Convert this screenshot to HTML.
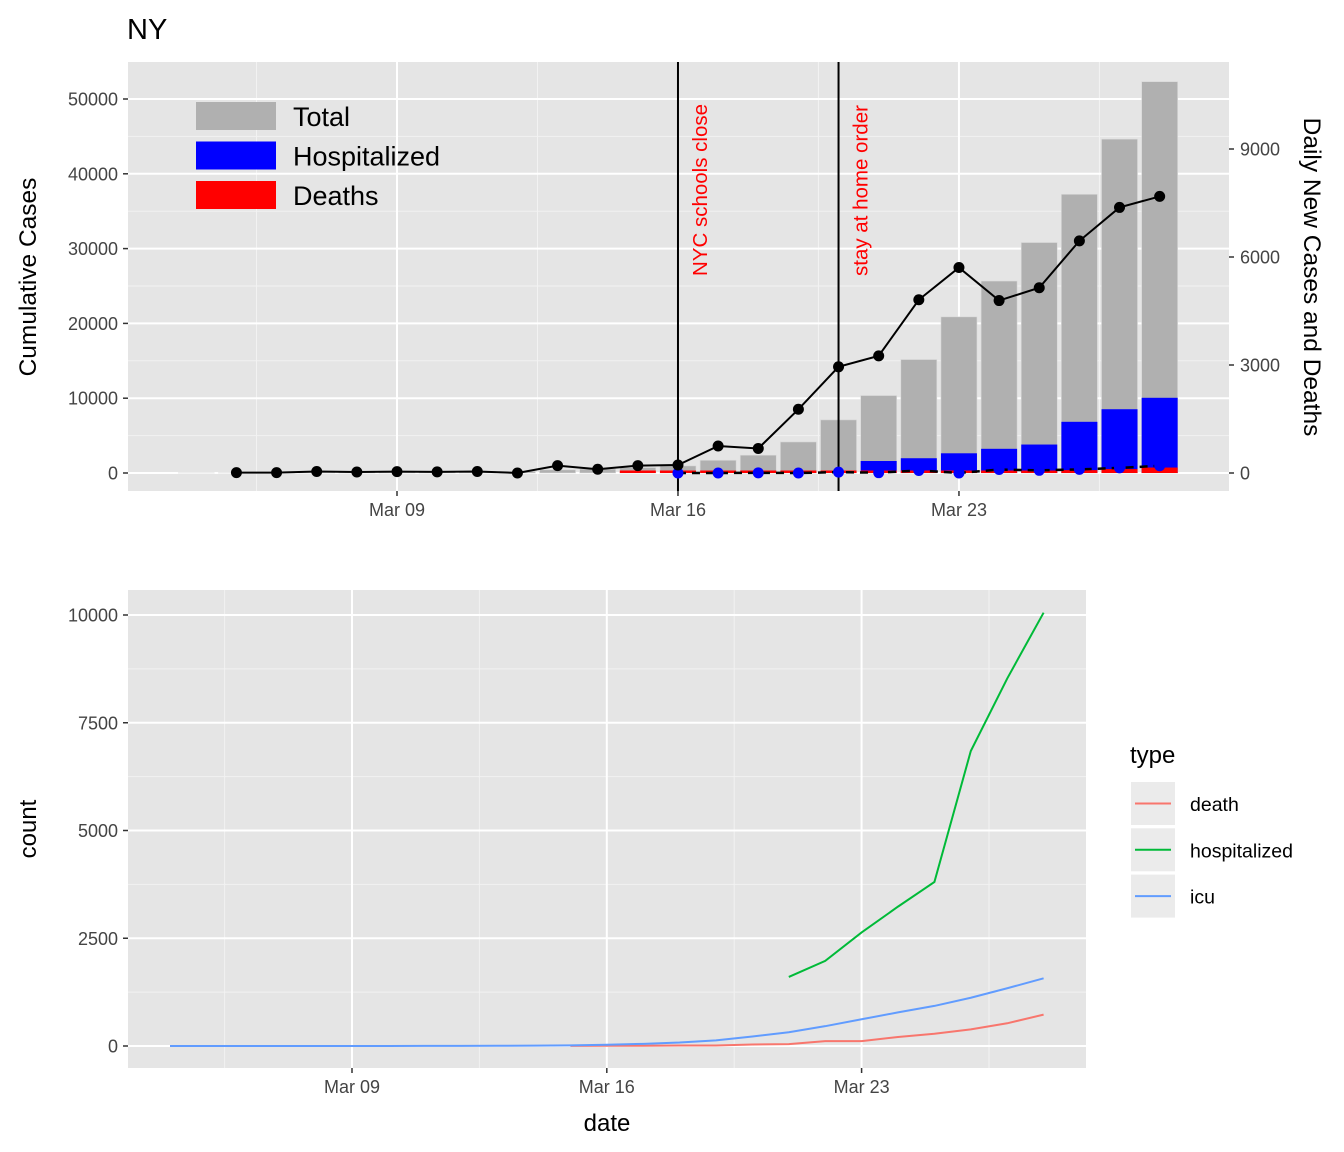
<!DOCTYPE html>
<html><head><meta charset="utf-8"><style>
body{margin:0;background:#fff;}
svg{display:block;font-family:"Liberation Sans",Arial,sans-serif;}
</style></head><body>
<svg id="c" width="1344" height="1152" viewBox="0 0 1344 1152" xmlns="http://www.w3.org/2000/svg"></svg>
<script>
// ---- data ----
const days = ["Mar 04","Mar 05","Mar 06","Mar 07","Mar 08","Mar 09","Mar 10","Mar 11","Mar 12","Mar 13","Mar 14","Mar 15","Mar 16","Mar 17","Mar 18","Mar 19","Mar 20","Mar 21","Mar 22","Mar 23","Mar 24","Mar 25","Mar 26","Mar 27","Mar 28"];
const totalCum = [11,22,33,76,105,142,173,216,216,421,524,729,950,1700,2382,4152,7102,10356,15168,20875,25665,30811,37258,44635,52318];
const hospCum = [null,null,null,null,null,null,null,null,null,null,null,null,null,null,null,null,null,1603,1974,2635,3234,3805,6844,8526,10054];
const deathCum = [null,null,null,null,null,null,null,null,null,null,null,3,7,7,12,12,35,44,114,114,210,285,385,527,728];
const dailyNew = [null,11,11,43,29,37,31,43,0,205,103,205,221,750,682,1770,2950,3254,4812,5707,4790,5146,6447,7377,7683];
const dailyDeaths = [null,null,null,null,null,null,null,null,null,null,null,null,0,0,5,0,23,9,70,0,96,75,100,142,201];
const icu = [0,0,0,0,0,1,1,2,3,5,8,15,30,50,80,130,220,320,460,620,780,930,1120,1340,1570];
const leftTicks = [0,10000,20000,30000,40000,50000];
const rightTicks = [0,3000,6000,9000];
const botTicks = [0,2500,5000,7500,10000];
const dateTicks = [5,12,19]; // indices of Mar 09, Mar 16, Mar 23
const dateLabels = ["Mar 09","Mar 16","Mar 23"];
const events = [12,16];
const eventLabels = ["NYC schools close","stay at home order"];

const NS="http://www.w3.org/2000/svg";
const svg=document.getElementById('c');
function el(tag,attrs,parent,text){const e=document.createElementNS(NS,tag);for(const k in attrs)e.setAttribute(k,attrs[k]);if(text!==undefined)e.textContent=text;(parent||svg).appendChild(e);return e;}
const TICK=18, TICKC='#444';

// ---- top panel ----
const T={x0:128,x1:1229,y0:62,y1:491};
const tx=i=>397+(i-5)*40.14;
const tyL=v=>473-v*0.00748;
const tyR=v=>473-v*0.036;
let r=el('rect',{x:T.x0,y:T.y0,width:T.x1-T.x0,height:T.y1-T.y0,fill:'#e5e5e5'});

for(let v=5000;v<=50000;v+=10000){el('line',{x1:T.x0,x2:T.x1,y1:tyL(v),y2:tyL(v),stroke:'#f2f2f2','stroke-width':1});}
for(const d of [1.5,8.5,15.5,22.5]){el('line',{x1:tx(d),x2:tx(d),y1:T.y0,y2:T.y1,stroke:'#f2f2f2','stroke-width':1});}
for(const v of leftTicks){el('line',{x1:T.x0,x2:T.x1,y1:tyL(v),y2:tyL(v),stroke:'#fff','stroke-width':2});}
for(const d of dateTicks){el('line',{x1:tx(d),x2:tx(d),y1:T.y0,y2:T.y1,stroke:'#fff','stroke-width':2});}
const bw=36;
days.forEach((d,i)=>{
  let b=el('rect',{x:tx(i)-bw/2,y:tyL(totalCum[i]),width:bw,height:473-tyL(totalCum[i]),fill:'#b0b0b0',stroke:'#d9d9d9','stroke-width':0.6});
  
  if(hospCum[i]!=null){let h=el('rect',{x:tx(i)-bw/2,y:tyL(hospCum[i]),width:bw,height:473-tyL(hospCum[i]),fill:'#0000ff'});
    }
  if(deathCum[i]!=null){let dd=el('rect',{x:tx(i)-bw/2,y:Math.min(tyL(deathCum[i]),470.5),width:bw,height:Math.max(473-tyL(deathCum[i]),2.5),fill:'#ff0000'});
    }
});
events.forEach((d,k)=>{
  let l=el('line',{x1:tx(d),x2:tx(d),y1:T.y0,y2:T.y1,stroke:'#000','stroke-width':2});
  
  let t=el('text',{x:0,y:0,transform:`translate(${tx(d)+29},276) rotate(-90)`,fill:'#ff0000','font-size':20.5},null,eventLabels[k]);
  
});
let ptsD=[];dailyDeaths.forEach((v,i)=>{if(v!=null)ptsD.push(tx(i)+','+tyR(v));});
let dl=el('polyline',{points:ptsD.join(' '),fill:'none',stroke:'#000','stroke-width':2.5,'stroke-dasharray':'8,6'});

dailyDeaths.forEach((v,i)=>{if(v!=null){let c=el('circle',{cx:tx(i),cy:tyR(v),r:5.5,fill:'#0000ff'});
  }});
let ptsN=[];dailyNew.forEach((v,i)=>{if(v!=null)ptsN.push(tx(i)+','+tyR(v));});
let nl=el('polyline',{points:ptsN.join(' '),fill:'none',stroke:'#000','stroke-width':2});

dailyNew.forEach((v,i)=>{if(v!=null){let c=el('circle',{cx:tx(i),cy:tyR(v),r:5.5,fill:'#000'});
  }});
leftTicks.forEach(v=>{el('line',{x1:123,x2:128,y1:tyL(v),y2:tyL(v),stroke:'#333','stroke-width':1.5});
  let t=el('text',{x:118,y:tyL(v)+6.5,'text-anchor':'end','font-size':TICK,fill:TICKC},null,v);
  });
rightTicks.forEach(v=>{el('line',{x1:1229,x2:1234,y1:tyR(v),y2:tyR(v),stroke:'#333','stroke-width':1.5});
  let t=el('text',{x:1240,y:tyR(v)+6.5,'font-size':TICK,fill:TICKC},null,v);
  });
dateTicks.forEach((d,k)=>{el('line',{x1:tx(d),x2:tx(d),y1:491,y2:496,stroke:'#333','stroke-width':1.5});
  let t=el('text',{x:tx(d),y:516,'text-anchor':'middle','font-size':TICK,fill:TICKC},null,dateLabels[k]);
  });
let tt=el('text',{x:127,y:39,'font-size':29,fill:'#000'},null,'NY');
let yl=el('text',{x:0,y:0,transform:'translate(36,277) rotate(-90)','text-anchor':'middle','font-size':24.5,fill:'#000'},null,'Cumulative Cases');

let yr=el('text',{x:0,y:0,transform:'translate(1304,277) rotate(90)','text-anchor':'middle','font-size':24.5,fill:'#000'},null,'Daily New Cases and Deaths');

[['Total','#b0b0b0'],['Hospitalized','#0000ff'],['Deaths','#ff0000']].forEach((e,k)=>{
  let g=el('g',{});
  el('rect',{x:196,y:102+k*39.5,width:80,height:28,fill:e[1]},g);
  el('text',{x:293,y:126+k*39.5,'font-size':27,fill:'#000'},g,e[0]);
});

// ---- bottom panel ----
const B={x0:128,x1:1086,y0:590,y1:1068};
const bx=i=>352+(i-5)*36.4;
const by=v=>1046-v*0.0431;
r=el('rect',{x:B.x0,y:B.y0,width:B.x1-B.x0,height:B.y1-B.y0,fill:'#e5e5e5'});

for(let v=1250;v<=10000;v+=2500){el('line',{x1:B.x0,x2:B.x1,y1:by(v),y2:by(v),stroke:'#f2f2f2','stroke-width':1});}
for(const d of [1.5,8.5,15.5,22.5]){el('line',{x1:bx(d),x2:bx(d),y1:B.y0,y2:B.y1,stroke:'#f2f2f2','stroke-width':1});}
botTicks.forEach(v=>el('line',{x1:B.x0,x2:B.x1,y1:by(v),y2:by(v),stroke:'#fff','stroke-width':2}));
dateTicks.forEach(d=>el('line',{x1:bx(d),x2:bx(d),y1:B.y0,y2:B.y1,stroke:'#fff','stroke-width':2}));
function series(arr,color,name){let p=[];arr.forEach((v,i)=>{if(v!=null)p.push(bx(i)+','+by(v));});
  let l=el('polyline',{points:p.join(' '),fill:'none',stroke:color,'stroke-width':2});
  }
series(deathCum,'#f8766d','death-line');
series(hospCum,'#00ba38','hospitalized-line');
series(icu,'#619cff','icu-line');
botTicks.forEach(v=>{el('line',{x1:123,x2:128,y1:by(v),y2:by(v),stroke:'#333','stroke-width':1.5});
  let t=el('text',{x:118,y:by(v)+6.5,'text-anchor':'end','font-size':TICK,fill:TICKC},null,v);
  });
dateTicks.forEach((d,k)=>{el('line',{x1:bx(d),x2:bx(d),y1:1068,y2:1073,stroke:'#333','stroke-width':1.5});
  let t=el('text',{x:bx(d),y:1093,'text-anchor':'middle','font-size':TICK,fill:TICKC},null,dateLabels[k]);
  });
let xt=el('text',{x:607,y:1131,'text-anchor':'middle','font-size':24,fill:'#000'},null,'date');
let ct=el('text',{x:0,y:0,transform:'translate(36,829) rotate(-90)','text-anchor':'middle','font-size':24,fill:'#000'},null,'count');
let lt=el('text',{x:1130,y:763,'font-size':24,fill:'#000'},null,'type');
[['death','#f8766d'],['hospitalized','#00ba38'],['icu','#619cff']].forEach((e,k)=>{
  let g=el('g',{});
  el('rect',{x:1131,y:782+k*46.3,width:44,height:43,fill:'#ebebeb'},g);
  el('line',{x1:1135,x2:1171,y1:803.5+k*46.3,y2:803.5+k*46.3,stroke:e[1],'stroke-width':2},g);
  el('text',{x:1190,y:811+k*46.3,'font-size':19.5,fill:'#000'},g,e[0]);
});
</script>
</body></html>
